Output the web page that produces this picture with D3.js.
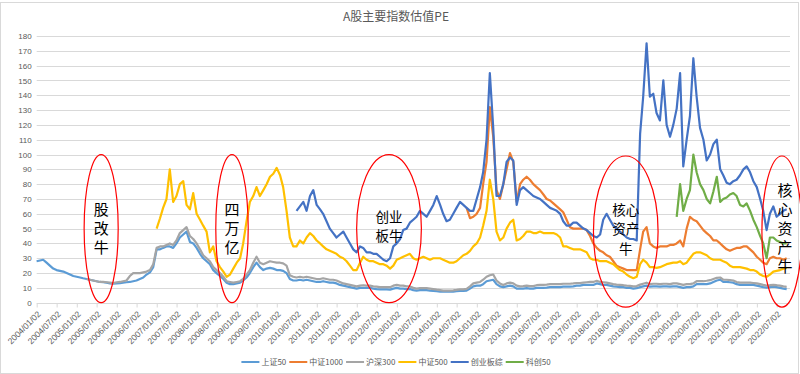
<!DOCTYPE html>
<html>
<head>
<meta charset="utf-8">
<script src="https://cdn.jsdelivr.net/npm/d3@7"></script>
<style>
  body { margin: 0; background: #fff; }
  svg { display: block; font-family: "Liberation Sans", "Noto Sans CJK SC", sans-serif; }
</style>
</head>
<body>
<svg id="chart"></svg>
<script>
const w = 800;
const h = 374;

const title = "A股主要指数估值PE";
const seriesNames = ["上证50", "中证1000", "沪深300", "中证500", "创业板综", "科创50"];
const seriesColors = ["#5B9BD5", "#ED7D31", "#A5A5A5", "#FFC000", "#4472C4", "#70AD47"];
const seriesStart = ["2004/01", "2014/10", "2005/04", "2007/01", "2010/07", "2020/01"];

// monthly PE readings, one value per month from each series' start month
const sz50 = [
  28, 28.5, 29, 27, 25, 23, 22, 21.5, 21, 20, 19, 18,
  17.5, 17, 16.5, 16, 15.5, 15, 14.5, 14, 13.8, 13.5, 13, 12.8,
  13, 13.2, 13.5, 13.8, 14, 14.5, 15, 16, 17, 19, 20.5, 24,
  36, 36, 37, 38, 38, 37, 40, 44, 46, 48, 41, 40,
  37, 33, 30, 28, 26, 22, 20, 18, 16, 13.5, 12.5, 12.5,
  13, 13.5, 15, 17, 20, 24, 27, 24, 22, 23, 23.5, 23,
  22, 22, 21.5, 20, 16, 15, 15, 15.5, 15, 15.5, 15, 14.5,
  14, 14, 14.5, 14, 13.5, 13.5, 13, 12, 11.5, 11, 10.5, 10,
  9.5, 10, 10, 10, 10, 9.5, 9.2, 9, 9, 9, 8.8, 9.5,
  10, 9.5, 9.5, 9.2, 9.2, 8.5, 8.2, 8.5, 8.5, 8.5, 8.2, 8,
  7.8, 7.5, 7.4, 7.5, 7.5, 7.5, 7.8, 8, 8, 8.2, 9.5, 11,
  11.5, 11.5, 12.5, 14.5, 15, 15.5, 12.5, 11, 10.5, 11, 11.5, 11,
  9.5, 9.5, 9.5, 9.8, 9.5, 9.5, 10, 10, 10, 10.2, 10.5, 10.5,
  10.5, 10.5, 10.8, 10.8, 10.8, 11, 11.5, 11.5, 12, 12, 12, 12,
  13, 12.5, 12, 12, 11.5, 11, 10.8, 10.5, 10.5, 10, 10, 9.5,
  9.8, 10.5, 11, 11.5, 10.8, 11, 11, 10.8, 11, 11, 10.8, 11,
  11, 10.5, 10, 10.5, 10.5, 11, 12.5, 12.5, 12.5, 12.5, 13, 14,
  15, 15.5, 14, 14, 13.8, 13.5, 12.5, 12, 12, 12, 12, 12,
  11.5, 11, 10.5, 10.2, 10.5, 10.8, 10.5, 10, 9.5, 9.2
];

const zz1000 = [
  64, 57, 58,
  60, 64, 80, 95, 132, 112, 76, 70, 80, 90, 101, 95,
  68, 80, 83, 85, 83, 80, 78, 76, 73, 70, 69, 67,
  65, 63, 61, 56, 51, 50, 50, 50, 50, 49, 45, 40,
  37, 35, 34, 32, 31, 28, 25, 24, 23, 22, 22, 22,
  22, 36, 48, 51, 40, 38, 37, 38, 38, 38, 39, 39,
  40, 42, 38, 50, 58, 56, 55, 52, 49, 47, 45, 42,
  42, 40, 38, 36, 35, 36, 37, 37, 38, 38, 36, 34,
  31, 29, 27, 26, 30, 31, 30, 30, 29, 30
];

const hs300 = [
  16, 15.5, 15, 14.5, 14, 14, 13.8, 13.5, 13.2,
  13.8, 14, 14.5, 15, 18, 20, 20, 20, 20.5, 21, 22, 26,
  37, 38, 38, 39, 40, 39, 42, 47, 49, 51, 45, 43,
  40, 36, 32, 30, 28, 24, 22, 20, 17.5, 14.5, 14, 13.5,
  14, 14.5, 16, 19, 22, 27, 31, 27, 26, 27, 28, 27.5,
  27, 27, 26.5, 25, 18.5, 17.5, 17, 17.5, 17, 17.5, 17, 16.5,
  16, 16, 16.5, 16, 15.5, 15.5, 15, 14, 13, 12.5, 12, 11.5,
  11, 11.5, 11.8, 11.5, 11.5, 11, 10.8, 10.5, 10.5, 10.5, 10.5, 11.5,
  12, 11.5, 11.5, 11, 11, 10, 9.5, 9.8, 9.8, 9.8, 9.5, 9.2,
  8.8, 8.5, 8.2, 8.2, 8.2, 8.3, 8.6, 9, 9, 9.3, 11, 13,
  13.5, 14, 15.5, 17.5, 18.5, 19, 15, 13, 12, 13, 13.5, 13,
  11.5, 11, 11.2, 11.5, 11.2, 11.2, 11.8, 12, 12, 12.2, 12.5, 12.5,
  12.5, 12.5, 12.8, 12.8, 12.8, 13, 13.3, 13.3, 13.6, 13.8, 14, 14,
  14.8, 14, 13.8, 13.5, 13, 12.5, 12.2, 12, 11.8, 11.5, 11.3, 11,
  11.2, 12.2, 12.8, 13.5, 12.5, 12.8, 12.8, 12.5, 12.8, 12.8, 12.5, 13,
  13, 12.5, 12, 12.5, 12.5, 13, 14.5, 14.5, 14.5, 14.8, 15.2, 16,
  16.8, 17, 15.5, 15.5, 15.3, 15, 14, 13.5, 13.5, 13.5, 13.5, 13.3,
  13, 12.5, 12, 11.5, 11.8, 12, 11.8, 11.5, 11, 10.7
];

const zz500 = [
  50, 57, 64, 70, 90, 68, 72, 80, 82, 66, 63, 74,
  60, 56, 52, 48, 34, 38, 28, 24, 21, 17.5, 19, 23,
  27, 30, 40, 55, 68, 72, 78, 72, 76, 80, 85, 87,
  91, 86, 78, 62, 44, 38, 38, 42, 40, 44, 47, 45,
  42, 40, 38, 36, 35, 34, 33, 31, 30, 28, 25, 22,
  22, 27, 31, 29, 28, 28, 27, 26, 26, 25, 23, 25,
  29, 30, 31, 32, 33, 30, 29, 30, 31, 30, 29, 30,
  30, 30, 29, 28, 27, 27, 28, 30, 32, 33, 35, 38,
  40, 44, 52, 62, 83, 70, 48, 42, 44, 50, 54, 56,
  42, 43, 45, 48, 48, 47, 47, 48, 47, 47, 47, 47,
  46, 44, 38, 38, 37, 36, 36, 36, 35, 34, 30, 29,
  29, 28, 28, 28, 27, 26, 24, 22, 21, 19, 17.5, 16.5,
  17.5, 26, 29, 27, 24, 24, 23.5, 24, 25, 26, 26.5, 27,
  27, 28, 26, 27, 30, 33, 34, 34, 33, 32, 30, 29,
  29, 29, 28, 27, 25, 24, 24, 24, 23.5, 23, 22, 22,
  21, 19, 18, 17.5, 19, 21, 21.5, 22, 23, 23.5
];

const cybz = [
  62, 65, 68, 62, 72, 76,
  66, 63, 60, 55, 50, 47, 44, 46, 48, 44, 40, 36,
  34, 38, 37, 34, 34, 33, 33, 31, 29, 28, 30, 38,
  40, 43, 49, 50, 54, 56, 58, 62, 60, 58, 62, 66,
  72, 66, 60, 55, 56, 60, 64, 68, 66, 64, 62, 62,
  70, 78, 88, 110, 155, 118, 72, 72, 80, 95, 98, 96,
  66, 76, 78, 76, 74, 72, 71, 70, 68, 66, 64, 63,
  62, 60, 55, 52, 52, 54, 54, 52, 50, 49, 47, 45,
  44, 46, 56, 60, 56, 52, 50, 48, 46, 44, 43, 43,
  42, 114, 139, 175, 139, 141, 128, 123, 150, 120, 112, 120,
  131, 155, 92, 110, 126, 165, 139, 118, 110, 96, 100, 107,
  110, 90, 86, 81, 80, 82, 83, 86, 90, 92, 88, 82,
  78, 70, 62, 49, 60, 65, 58, 60, 62, 63
];

const kc50 = [
  58, 80, 62, 70, 76, 100, 88, 80, 76, 70, 67, 75,
  85, 68, 70, 71, 73, 74, 72, 66, 65, 67, 62, 56,
  51, 45, 40, 30, 44, 44, 42, 41, 40, 40
];

const seriesValues = [sz50, zz1000, hs300, zz500, cybz, kc50];

const xTickLabels = [
  "2004/01/02", "2004/07/02", "2005/01/02", "2005/07/02", "2006/01/02", "2006/07/02",
  "2007/01/02", "2007/07/02", "2008/01/02", "2008/07/02", "2009/01/02", "2009/07/02",
  "2010/01/02", "2010/07/02", "2011/01/02", "2011/07/02", "2012/01/02", "2012/07/02",
  "2013/01/02", "2013/07/02", "2014/01/02", "2014/07/02", "2015/01/02", "2015/07/02",
  "2016/01/02", "2016/07/02", "2017/01/02", "2017/07/02", "2018/01/02", "2018/07/02",
  "2019/01/02", "2019/07/02", "2020/01/02", "2020/07/02", "2021/01/02", "2021/07/02",
  "2022/01/02", "2022/07/02"
];
const yTicks = [0, 10, 20, 30, 40, 50, 60, 70, 80, 90, 100, 110, 120, 130, 140, 150, 160, 170, 180];

// red circled market phases
const notes = [
  { lines: ["股改牛"], from: "2005/03/10", to: "2006/01/15", lo: 0, hi: 100 },
  { lines: ["四万亿"], from: "2008/06/24", to: "2009/04/16", lo: 0, hi: 100 },
  { lines: ["创业", "板牛"], from: "2012/01/01", to: "2013/08/14", lo: 0, hi: 100 },
  { lines: ["核心", "资产", "牛"], from: "2017/12/02", to: "2019/07/15", lo: -3, hi: 99 },
  { lines: ["核心资产牛"], from: "2022/02/17", to: "2023/02/17", lo: -3, hi: 99 }
];

const parseMonth = d3.timeParse("%Y/%m");
const parseDay = d3.timeParse("%Y/%m/%d");

const series = seriesNames.map((name, i) => {
  const start = parseMonth(seriesStart[i]);
  return {
    name,
    color: seriesColors[i],
    points: seriesValues[i].map((v, k) => [d3.timeMonth.offset(start, k), v])
  };
});

const svg = d3.select("#chart").attr("width", w).attr("height", h);

svg.append("rect")
  .attr("x", 0.5).attr("y", 2.5)
  .attr("width", w - 2).attr("height", h - 3)
  .attr("fill", "#fff")
  .attr("stroke", "#d9d9d9");

const xScale = d3.scaleTime()
  .domain([parseDay("2004/01/02"), parseDay("2022/07/02")])
  .range([36.7, 776.7]);

const yScale = d3.scaleLinear()
  .domain([0, 180])
  .range([302.7, 36]);

const plotRight = 790;

// gridlines
svg.append("g")
  .selectAll("line")
  .data(yTicks.filter(d => d > 0))
  .enter()
  .append("line")
  .attr("x1", xScale.range()[0])
  .attr("x2", plotRight)
  .attr("y1", d => Math.round(yScale(d)) + 0.5)
  .attr("y2", d => Math.round(yScale(d)) + 0.5)
  .attr("stroke", "#d9d9d9")
  .attr("stroke-width", 1);

const yAxis = d3.axisLeft(yScale).tickValues(yTicks).tickSize(0).tickPadding(5);
svg.append("g")
  .attr("transform", `translate(${xScale.range()[0]},0)`)
  .call(yAxis)
  .call(g => g.select(".domain").remove())
  .selectAll("text")
  .attr("fill", "#595959")
  .style("font-size", "8px");

const xAxis = d3.axisBottom(xScale)
  .tickValues(xTickLabels.map(parseDay))
  .tickFormat(d3.timeFormat("%Y/%m/%d"))
  .tickSize(4)
  .tickSizeOuter(0);

const xg = svg.append("g")
  .attr("transform", `translate(0,${Math.round(yScale(0)) + 0.5})`)
  .call(xAxis);
xg.select(".domain")
  .attr("stroke", "#d9d9d9")
  .attr("d", `M${xScale.range()[0]},0H${plotRight}`);
xg.selectAll(".tick line").attr("stroke", "#d9d9d9");
xg.selectAll("text")
  .attr("fill", "#595959")
  .style("font-size", "8.5px")
  .attr("text-anchor", "end")
  .attr("x", 0)
  .attr("y", 0)
  .attr("dy", "0.35em")
  .attr("transform", "translate(2,9) rotate(-45)");

const line = d3.line()
  .x(d => xScale(d[0]))
  .y(d => yScale(d[1]));

svg.append("g")
  .selectAll("path")
  .data(series)
  .enter()
  .append("path")
  .attr("d", d => line(d.points))
  .attr("fill", "none")
  .attr("stroke", d => d.color)
  .attr("stroke-width", 2.2)
  .attr("stroke-linejoin", "round");

// annotations: single columns are set vertically, the others line by line
const noteG = svg.append("g");
notes.forEach(n => {
  const x0 = xScale(parseDay(n.from));
  const x1 = xScale(parseDay(n.to));
  const y0 = yScale(n.hi);
  const y1 = yScale(n.lo);
  const cx = (x0 + x1) / 2;
  const cy = (y0 + y1) / 2;
  noteG.append("ellipse")
    .attr("cx", cx).attr("cy", cy)
    .attr("rx", (x1 - x0) / 2).attr("ry", (y1 - y0) / 2)
    .attr("fill", "none")
    .attr("stroke", "#FF0000")
    .attr("stroke-width", 1.2);
  if (n.lines.length === 1) {
    const tall = n.lines[0].length > 3;
    noteG.append("text")
      .attr("x", cx + (tall ? 3 : 0))
      .attr("y", cy + (tall ? -1.5 : 2))
      .attr("writing-mode", "tb")
      .attr("text-anchor", "middle")
      .attr("letter-spacing", 4)
      .attr("font-family", "'Noto Sans CJK SC', sans-serif")
      .attr("font-size", 15)
      .attr("fill", "#000")
      .text(n.lines[0]);
  } else {
    const lh = 19.5;
    n.lines.forEach((t, k) => {
      noteG.append("text")
        .attr("x", cx)
        .attr("y", cy - 2 + (k - (n.lines.length - 1) / 2) * lh)
        .attr("dy", "0.36em")
        .attr("text-anchor", "middle")
        .attr("font-family", "'Noto Sans CJK SC', sans-serif")
        .attr("font-size", 13.5)
        .attr("fill", "#000")
        .text(t);
    });
  }
});

// title
svg.append("text")
  .attr("x", 396)
  .attr("y", 21)
  .attr("text-anchor", "middle")
  .attr("font-family", "'Noto Sans CJK SC', sans-serif")
  .attr("font-size", 12)
  .attr("fill", "#595959")
  .text(title);

// legend
const legend = svg.append("g").attr("transform", "translate(0,362)");
const items = legend.selectAll("g")
  .data(series)
  .enter()
  .append("g");
items.append("line")
  .attr("x1", 0).attr("x2", 18)
  .attr("stroke", d => d.color)
  .attr("stroke-width", 2);
items.append("text")
  .attr("x", 20)
  .attr("dy", "0.35em")
  .attr("font-family", "'Noto Sans CJK SC', sans-serif")
  .style("font-size", "8px")
  .attr("fill", "#595959")
  .text(d => d.name);
let pos = 0;
const offsets = [];
items.each(function () {
  offsets.push(pos);
  pos += 20 + d3.select(this).select("text").node().getComputedTextLength() + 3;
});
const legendStart = 396 - (pos - 3) / 2;
items.attr("transform", (d, i) => `translate(${legendStart + offsets[i]},0)`);
</script>
</body>
</html>
